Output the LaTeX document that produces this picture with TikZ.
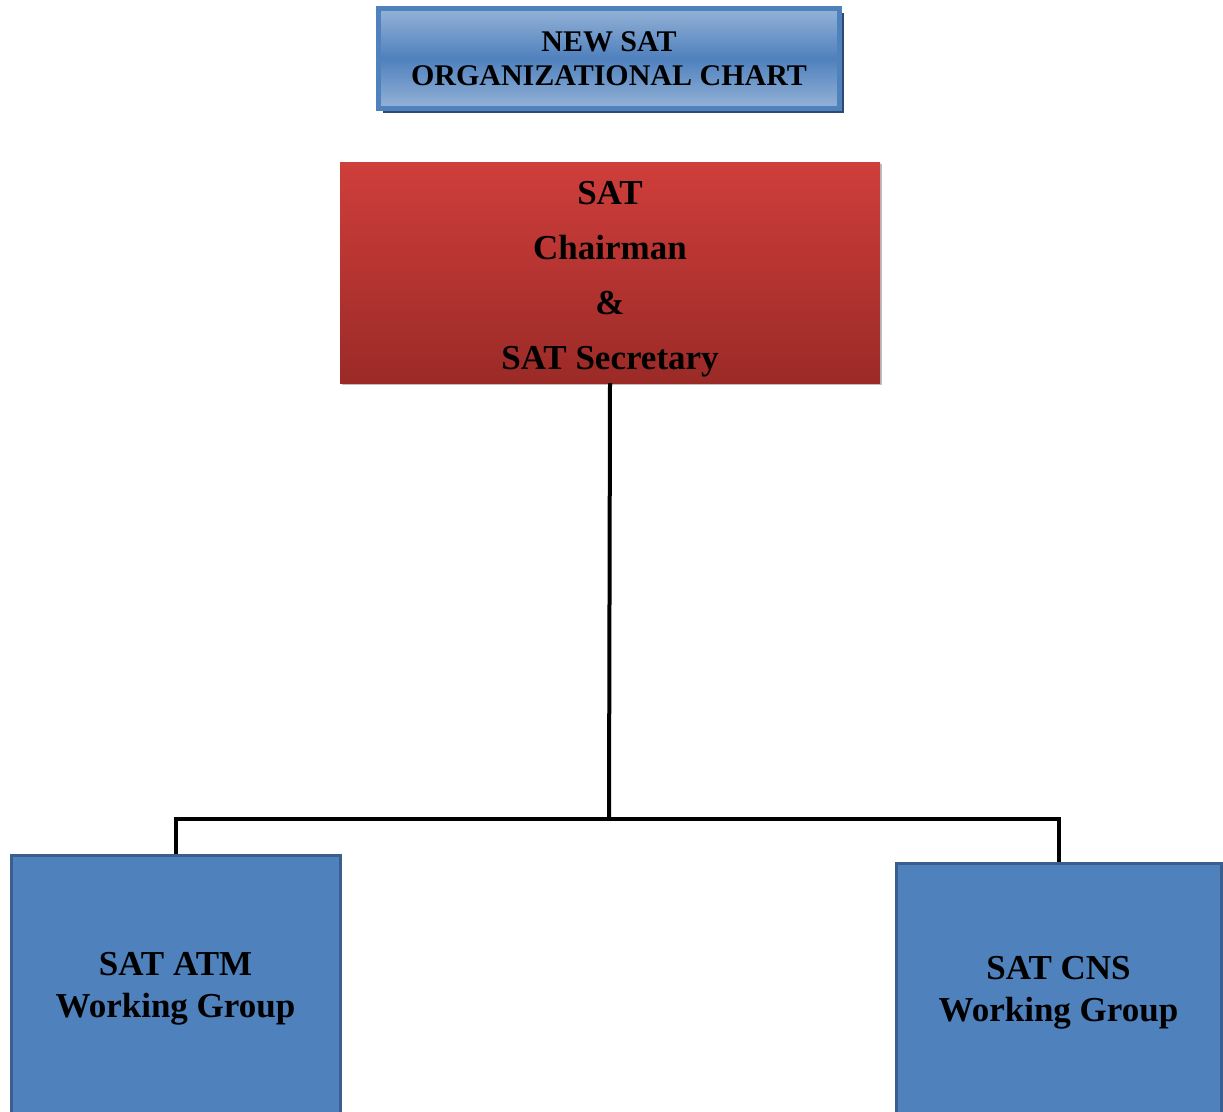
\documentclass[tikz,border=0pt]{standalone}
\usepackage{fontspec}
\setmainfont{Liberation Serif}[BoldFont={Liberation Serif Bold}]
\usetikzlibrary{shadows}
\definecolor{blueA}{HTML}{4F81BD}
\definecolor{blueL}{HTML}{95B3D7}
\definecolor{blueD}{HTML}{3A5F8E}
\definecolor{blueS}{HTML}{2E4A72}
\definecolor{redT}{HTML}{CF3E3B}
\definecolor{redB}{HTML}{9B2A27}
\tikzset{
  titlebox/.style={draw=blueA, line width=5pt, top color=blueL, bottom color=blueL, middle color=blueA,
    minimum width=461pt, minimum height=100pt, inner sep=0pt, align=center,
    font=\fontsize{30}{34}\selectfont\bfseries,
    drop shadow={shadow xshift=4pt, shadow yshift=-4pt, fill=blueS, opacity=1}},
  chairbox/.style={top color=redT, bottom color=redB, minimum width=540pt, minimum height=221pt,
    inner sep=0pt,
    drop shadow={shadow xshift=2pt, shadow yshift=-2pt, fill=black, opacity=0.25}},
  chairtext/.style={inner sep=0pt, align=center, font=\fontsize{35}{55}\selectfont\bfseries},
  wgbox/.style={draw=blueD, line width=3pt, fill=blueA, inner sep=0pt, align=center,
    font=\fontsize{35}{42}\selectfont\bfseries},
  conn/.style={line width=4pt, black}
}
\begin{document}
\begin{tikzpicture}[x=1pt,y=-1pt]
\useasboundingbox (0,0) rectangle (1223,1111);
\clip (0,0) rectangle (1223,1111);
\node[titlebox] (title) at (609,58.5) {NEW SAT\\ORGANIZATIONAL CHART};
\node[chairbox] (chair) at (610,272.5) {};
\node[chairtext] (chairlbl) at (610,279) {SAT\\Chairman\\\&\\SAT Secretary};
\node[wgbox, minimum width=329pt, minimum height=268pt] (atm) at (175.5,989) {SAT ATM\\Working Group};
\node[wgbox, minimum width=325pt, minimum height=260pt] (cns) at (1058.5,993) {SAT CNS\\Working Group};
\coordinate (j) at (609,819);
\draw[conn] (chair.south) -- (j);
\draw[conn] (atm.north) |- (j) -| (cns.north);
\end{tikzpicture}
\end{document}
